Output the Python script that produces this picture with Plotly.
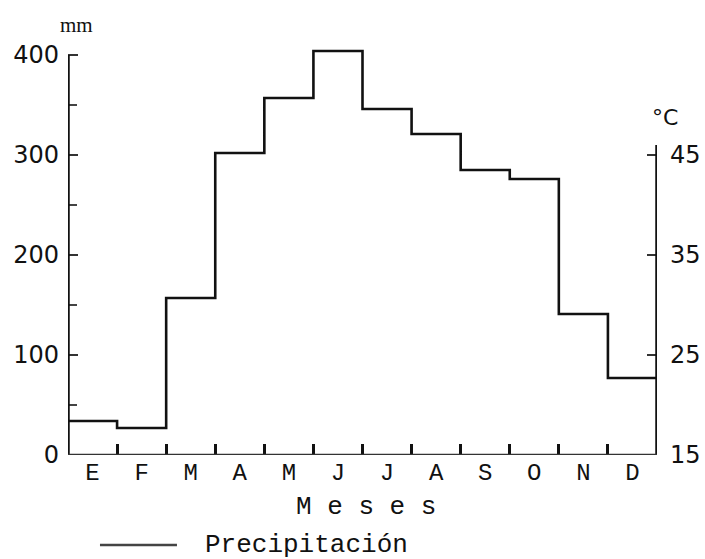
import plotly.graph_objects as go

months = ["E", "F", "M", "A", "M", "J", "J", "A", "S", "O", "N", "D"]
precip_mm = [34, 27, 157, 302, 357, 404, 346, 321, 285, 276, 141, 77]
mm_ticks = [0, 100, 200, 300, 400]
temp_ticks = [15, 25, 35, 45]

n = len(months)
x_edges = list(range(n + 1))
y_steps = precip_mm + [precip_mm[-1]]
centers = [i + 0.5 for i in range(n)]

MONO = "Liberation Mono, DejaVu Sans Mono, monospace"
SANS = "DejaVu Sans, sans-serif"

fig = go.Figure()
fig.add_trace(go.Scatter(
    x=x_edges, y=y_steps, mode="lines", line=dict(shape="hv", color="#111", width=2.6),
    name="Precipitación", showlegend=False, hoverinfo="skip"))
fig.add_trace(go.Scatter(x=[None], y=[None], yaxis="y2", showlegend=False, hoverinfo="skip"))

# axis lines
fig.add_shape(type="line", xref="x", yref="y", x0=0, x1=0, y0=0, y1=400,
              line=dict(color="#111", width=3.5))
fig.add_shape(type="line", xref="x", yref="y", x0=n, x1=n, y0=0, y1=310,
              line=dict(color="#111", width=3.5))
fig.add_shape(type="line", xref="x", yref="y", x0=0, x1=n, y0=0, y1=0,
              line=dict(color="#333", width=2.5))

# legend drawn by hand
fig.add_shape(type="line", xref="paper", yref="paper", x0=0.0543, x1=0.185, y0=-0.2195, y1=-0.2195,
              line=dict(color="#444", width=2.5))
fig.add_annotation(xref="paper", yref="paper", x=0.229, y=-0.2195, xanchor="left", yanchor="middle",
                   text="Precipitación", showarrow=False, font=dict(family=MONO, size=26, color="#111"))
fig.add_annotation(xref="paper", yref="paper", x=0.506, y=-0.127, xanchor="center", yanchor="middle",
                   text="M e s e s", showarrow=False, font=dict(family=MONO, size=26, color="#111"))
fig.add_annotation(xref="paper", yref="paper", x=0.0136, y=1.049, xanchor="center", yanchor="middle",
                   text="mm", showarrow=False, font=dict(family="Liberation Serif, serif", size=21, color="#111"))
fig.add_annotation(xref="paper", yref="paper", x=1.0136, y=0.824, xanchor="center", yanchor="middle",
                   text="°C", showarrow=False, font=dict(family=SANS, size=22, color="#111"))

fig.update_layout(
    width=705, height=559,
    margin=dict(l=68, r=48, t=45, b=104),
    paper_bgcolor="white", plot_bgcolor="white",
    showlegend=False,
    xaxis=dict(range=[0, n], tickmode="array", tickvals=centers, ticktext=months, ticks="",
               showline=False, showgrid=False, zeroline=False, automargin=False,
               tickfont=dict(family=MONO, size=24, color="#111"),
               minor=dict(tickmode="array", tickvals=list(range(1, n)), ticks="inside",
                          ticklen=11, tickwidth=2.5, tickcolor="#111", showgrid=False)),
    yaxis=dict(range=[0, 410], tickmode="array", tickvals=mm_ticks, ticks="inside", ticklen=10,
               tickwidth=2, tickcolor="#333", showline=False, showgrid=False, zeroline=False,
               ticklabelstandoff=8, automargin=False,
               tickfont=dict(family=SANS, size=24, color="#111"),
               minor=dict(tickmode="array", tickvals=[50, 150, 250, 350], ticks="inside",
                          ticklen=9, tickwidth=2, tickcolor="#444", showgrid=False)),
    yaxis2=dict(range=[15, 56], overlaying="y", side="right", tickmode="array", tickvals=temp_ticks,
                ticks="inside", ticklen=10, tickwidth=2, tickcolor="#333", showline=False,
                showgrid=False, zeroline=False, ticklabelstandoff=12, automargin=False,
                tickfont=dict(family=SANS, size=24, color="#111")),
)

fig.write_html("out.html", config={"displayModeBar": False},
               post_script="document.body.style.margin='0';")
